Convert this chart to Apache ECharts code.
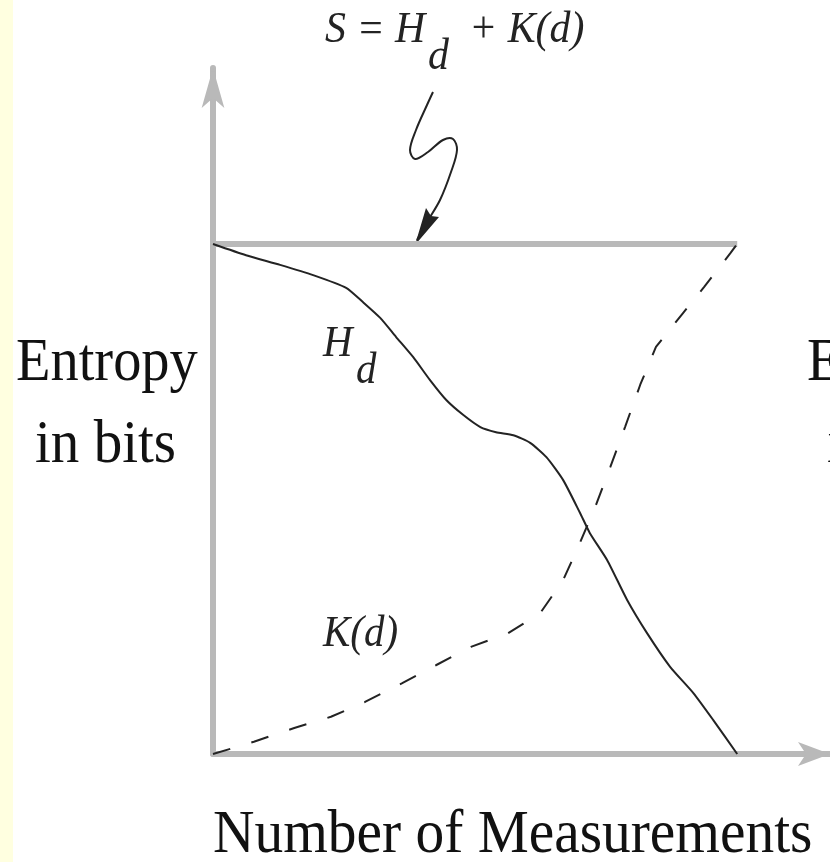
<!DOCTYPE html>
<html>
<head>
<meta charset="utf-8">
<script src="https://cdn.jsdelivr.net/npm/echarts@6/dist/echarts.min.js"></script>
<style>
html,body{margin:0;padding:0;background:#ffffff;}
#chart{width:830px;height:862px;}
</style>
</head>
<body>
<div id="chart"></div>
<script>
// H_d curve (solid)
const hX = [0, 0.63, 1.28, 1.91, 2.54, 2.86, 3.19, 3.49, 3.82, 4.14, 4.45, 4.77, 5.10, 5.40, 5.73, 6.05, 6.36, 6.68, 7.00, 7.19, 7.52, 7.90, 8.28, 8.72, 9.16, 9.54, 10];
const hY = [10, 9.78, 9.59, 9.39, 9.14, 8.86, 8.55, 8.18, 7.78, 7.33, 6.94, 6.65, 6.41, 6.31, 6.25, 6.10, 5.82, 5.37, 4.73, 4.33, 3.80, 3.02, 2.37, 1.71, 1.20, 0.67, 0];
// K(d) curve (dashed)
const kX = [0, 0.78, 1.55, 2.25, 2.90, 3.61, 4.27, 4.92, 5.63, 6.24, 6.68, 7.00, 7.29, 7.58, 7.86, 8.15, 8.45, 8.97, 9.37, 9.87, 10];
const kY = [0, 0.24, 0.51, 0.73, 1.02, 1.39, 1.75, 2.10, 2.37, 2.76, 3.41, 4.14, 4.84, 5.63, 6.41, 7.24, 7.98, 8.65, 9.16, 9.82, 10];
// S = H_d + K(d) (constant)
const sX = [0, 10];
const sY = [10, 10];

const zip = (a, b) => a.map((v, i) => [v, b[i]]);

const serif = '"Liberation Serif", "Times New Roman", serif';
const ink = '#232323';
const axisGray = '#b9b9b9';

const chart = echarts.init(document.getElementById('chart'), null, {renderer: 'canvas'});
chart.setOption({
  animation: false,
  backgroundColor: '#ffffff',
  grid: {left: 213, right: 0, top: 68, bottom: 108, containLabel: false},
  xAxis: {
    type: 'value', min: 0, max: 11.77,
    axisLine: {show: true, onZero: false, symbol: ['none', 'arrow'], symbolSize: [18, 32],
      lineStyle: {color: axisGray, width: 6}},
    axisTick: {show: false}, axisLabel: {show: false}, splitLine: {show: false}
  },
  yAxis: {
    type: 'value', min: 0, max: 13.45,
    axisLine: {show: true, onZero: false, symbol: ['none', 'arrow'], symbolSize: [17, 40],
      lineStyle: {color: axisGray, width: 6}},
    axisTick: {show: false}, axisLabel: {show: false}, splitLine: {show: false}
  },
  series: [
    {type: 'line', data: zip(sX, sY), showSymbol: false, silent: true, z: 1,
      lineStyle: {color: axisGray, width: 6}},
    {type: 'line', data: zip(hX, hY), showSymbol: false, silent: true, z: 3, smooth: 0.2,
      lineStyle: {color: ink, width: 2}},
    {type: 'line', data: zip(kX, kY), showSymbol: false, silent: true, z: 3,
      lineStyle: {color: ink, width: 2, type: [18, 22]}}
  ],
  graphic: [
    {type: 'rect', z: -10, shape: {x: 0, y: 0, width: 13, height: 862}, style: {fill: '#ffffe0'}},
    // formula at top
    {type: 'text', x: 325, y: 30, scaleX: 0.93, style: {text: 'S = H', font: 'italic 45px ' + serif, fill: ink, align: 'left', verticalAlign: 'middle'}},
    {type: 'text', x: 428, y: 57, scaleX: 0.93, style: {text: 'd', font: 'italic 45px ' + serif, fill: ink, align: 'left', verticalAlign: 'middle'}},
    {type: 'text', x: 469, y: 30, scaleX: 0.93, style: {text: '+ K(d)', font: 'italic 45px ' + serif, fill: ink, align: 'left', verticalAlign: 'middle'}},
    // squiggle arrow
    {type: 'polyline', shape: {points: [[433, 92], [427, 105], [416, 130], [410, 150], [415, 159], [428, 152], [443, 140], [453, 139], [457, 150], [451, 172], [440, 200], [427, 222], [417, 240]], smooth: 0.35},
      style: {stroke: ink, lineWidth: 2, fill: null}},
    {type: 'polygon', shape: {points: [[415, 245], [426, 208], [431, 216], [439, 217]]}, style: {fill: ink}},
    // axis labels
    {type: 'text', x: 16, y: 364, scaleX: 0.91, style: {text: 'Entropy', font: '62px ' + serif, fill: '#111', align: 'left', verticalAlign: 'middle'}},
    {type: 'text', x: 35, y: 446, scaleX: 0.92, style: {text: 'in bits', font: '62px ' + serif, fill: '#111', align: 'left', verticalAlign: 'middle'}},
    {type: 'text', x: 807, y: 364, scaleX: 0.91, style: {text: 'Entropy', font: '62px ' + serif, fill: '#111', align: 'left', verticalAlign: 'middle'}},
    {type: 'text', x: 827, y: 446, scaleX: 0.92, style: {text: 'in bits', font: '62px ' + serif, fill: '#111', align: 'left', verticalAlign: 'middle'}},
    {type: 'text', x: 213, y: 836, scaleX: 0.926, style: {text: 'Number of Measurements', font: '62px ' + serif, fill: '#111', align: 'left', verticalAlign: 'middle'}},
    // curve labels
    {type: 'text', x: 323, y: 344, scaleX: 0.93, style: {text: 'H', font: 'italic 44px ' + serif, fill: ink, align: 'left', verticalAlign: 'middle'}},
    {type: 'text', x: 356, y: 371, scaleX: 0.93, style: {text: 'd', font: 'italic 44px ' + serif, fill: ink, align: 'left', verticalAlign: 'middle'}},
    {type: 'text', x: 323, y: 634, scaleX: 0.93, style: {text: 'K(d)', font: 'italic 44px ' + serif, fill: ink, align: 'left', verticalAlign: 'middle'}}
  ]
});
</script>
</body>
</html>
